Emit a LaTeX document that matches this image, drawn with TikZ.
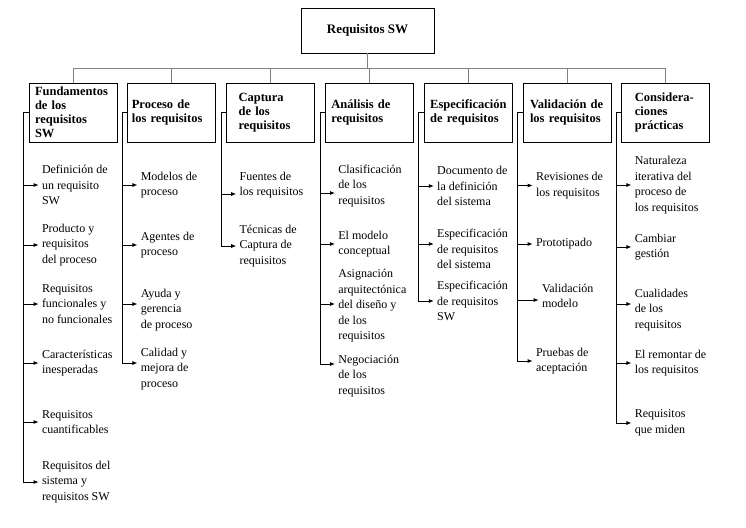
\documentclass[tikz,border=0pt]{standalone}
\usepackage{fontspec}
\setmainfont{Liberation Serif}
\usetikzlibrary{positioning}
\usetikzlibrary{arrows.meta}
\tikzstyle{root} = [rectangle,draw=black,minimum width=133pt,minimum height=45pt,font=\bfseries\fontsize{13}{15}\selectfont]
\tikzstyle{hdr} = [rectangle,draw=black,minimum height=59pt,align=left,inner xsep=6pt,text width=76pt,font=\bfseries\fontsize{12.5}{14}\selectfont]
\tikzstyle{item} = [anchor=west,xshift=15pt,align=left,inner xsep=3pt,inner ysep=0pt,font=\fontsize{12}{15.5}\selectfont]
\tikzstyle{bus} = [draw=gray]
\tikzset{>={Latex[length=5pt,width=4pt]}}

\begin{document}
\begin{tikzpicture}[x=1pt,y=-1pt,line width=0.8pt]
  \useasboundingbox (0,0) rectangle (746,527);

  \node [root] (r) at (367.5,30.5) {Requisitos SW};

  \node [hdr] (h1) at (73,112.5) {Fundamentos\\de los\\requisitos\\SW};
  \node [hdr,right=10pt of h1,inner xsep=4pt,text width=80pt] (h2) {Proceso de\\los requisitos};
  \node [hdr,right=10pt of h2,inner xsep=12pt,text width=64pt] (h3) {Captura\\de los\\requisitos};
  \node [hdr,right=10pt of h3] (h4) {Análisis de\\requisitos};
  \node [hdr,right=10pt of h4] (h5) {Especificación\\de requisitos};
  \node [hdr,right=10pt of h5,inner xsep=7pt,text width=74pt] (h6) {Validación de\\los requisitos};
  \node [hdr,right=10pt of h6,inner xsep=13pt,text width=62pt] (h7) {Considera-\\ciones\\prácticas};

  % bus from the root to the seven areas
  \coordinate (b) at ([yshift=-15pt]r.south);
  \draw [bus] (r.south) -- (b);
  \draw [bus] (h1.north) |- (b) -| (h7.north);
  \foreach \h in {h2,h3,h4,h5,h6}
    \draw [bus] (\h.north) -- (\h.north |- b);

  \foreach \k in {1,...,7}
    \coordinate (s\k) at ([xshift=-5pt]h\k.west);

  % Fundamentos
  \node [item] (i11) at (s1 |- 0,185) {Definición de\\un requisito\\SW};
  \node [item] (i12) at (s1 |- 0,245) {Producto y\\requisitos\\del proceso};
  \node [item] (i13) at (s1 |- 0,304) {Requisitos\\funcionales y\\no funcionales};
  \node [item] (i14) at (s1 |- 0,363) {Características\\inesperadas};
  \node [item] (i15) at (s1 |- 0,422) {Requisitos\\cuantificables};
  \node [item] (i16) at (s1 |- 0,482) {Requisitos del\\sistema y\\requisitos SW};
  \foreach \n in {i11,i12,i13,i14,i15}
    \draw [->] (s1 |- \n.west) -- (\n.west);
  \draw [->] (h1.west) -- (s1) |- (i16.west);

  % Proceso
  \node [item] (i21) at (s2 |- 0,185) {Modelos de\\proceso};
  \node [item] (i22) at (s2 |- 0,245) {Agentes de\\proceso};
  \node [item] (i23) at (s2 |- 0,310) {Ayuda y\\gerencia\\de proceso};
  \node [item] (i24) at (s2 |- 0,369) {Calidad y\\mejora de\\proceso};
  \coordinate (t23) at ([yshift=6pt]i23.west);
  \coordinate (t24) at ([yshift=6pt]i24.west);
  \draw [->] (s2 |- i21.west) -- (i21.west);
  \draw [->] (s2 |- i22.west) -- (i22.west);
  \draw [->] (s2 |- t23) -- (t23);
  \draw [->] (h2.west) -- (s2) |- (t24);

  % Captura
  \node [item] (i31) at (s3 |- 0,185) {Fuentes de\\los requisitos};
  \node [item] (i32) at (s3 |- 0,246) {Técnicas de\\Captura de\\requisitos};
  \coordinate (t31) at ([yshift=-9pt]i31.west);
  \draw [->] (s3 |- t31) -- (t31);
  \draw [->] (h3.west) -- (s3) |- (i32.west);

  % Analisis
  \node [item] (i41) at (s4 |- 0,186) {Clasificación\\de los\\requisitos};
  \node [item] (i42) at (s4 |- 0,244) {El modelo\\conceptual};
  \node [item] (i43) at (s4 |- 0,306) {Asignación\\arquitectónica\\del diseño y\\de los\\requisitos};
  \node [item] (i44) at (s4 |- 0,376) {Negociación\\de los\\requisitos};
  \coordinate (t41) at ([yshift=-7pt]i41.west);
  \coordinate (t43) at ([yshift=2pt]i43.west);
  \coordinate (t44) at ([yshift=12pt]i44.west);
  \draw [->] (s4 |- t41) -- (t41);
  \draw [->] (s4 |- i42.west) -- (i42.west);
  \draw [->] (s4 |- t43) -- (t43);
  \draw [->] (h4.west) -- (s4) |- (t44);

  % Especificacion
  \node [item] (i51) at (s5 |- 0,186) {Documento de\\la definición\\del sistema};
  \node [item] (i52) at (s5 |- 0,249) {Especificación\\de requisitos\\del sistema};
  \node [item] (i53) at (s5 |- 0,301) {Especificación\\de requisitos\\SW};
  \coordinate (t52) at ([yshift=5pt]i52.west);
  \draw [->] (s5 |- i51.west) -- (i51.west);
  \draw [->] (s5 |- t52) -- (t52);
  \draw [->] (h5.west) -- (s5) |- (i53.west);

  % Validacion
  \node [item] (i61) at (s6 |- 0,185.5) {Revisiones de\\los requisitos};
  \node [item] (i62) at (s6 |- 0,244) {Prototipado};
  \node [item,xshift=6pt] (i63) at (s6 |- 0,296) {Validación\\modelo};
  \node [item] (i64) at (s6 |- 0,361) {Pruebas de\\aceptación};
  \coordinate (t63) at ([yshift=-4pt]i63.west);
  \draw [->] (s6 |- i61.west) -- (i61.west);
  \draw [->] (s6 |- i62.west) -- (i62.west);
  \draw [->] (s6 |- t63) -- (t63);
  \draw [->] (h6.west) -- (s6) |- (i64.west);

  % Consideraciones
  \node [item] (i71) at (s7 |- 0,185) {Naturaleza\\iterativa del\\proceso de\\los requisitos};
  \node [item] (i72) at (s7 |- 0,247) {Cambiar\\gestión};
  \node [item] (i73) at (s7 |- 0,310) {Cualidades\\de los\\requisitos};
  \node [item] (i74) at (s7 |- 0,363) {El remontar de\\los requisitos};
  \node [item] (i75) at (s7 |- 0,423) {Requisitos\\que miden};
  \coordinate (t73) at ([yshift=6pt]i73.west);
  \draw [->] (s7 |- i71.west) -- (i71.west);
  \draw [->] (s7 |- i72.west) -- (i72.west);
  \draw [->] (s7 |- t73) -- (t73);
  \draw [->] (s7 |- i74.west) -- (i74.west);
  \draw [->] (h7.west) -- (s7) |- (i75.west);

\end{tikzpicture}
\end{document}
